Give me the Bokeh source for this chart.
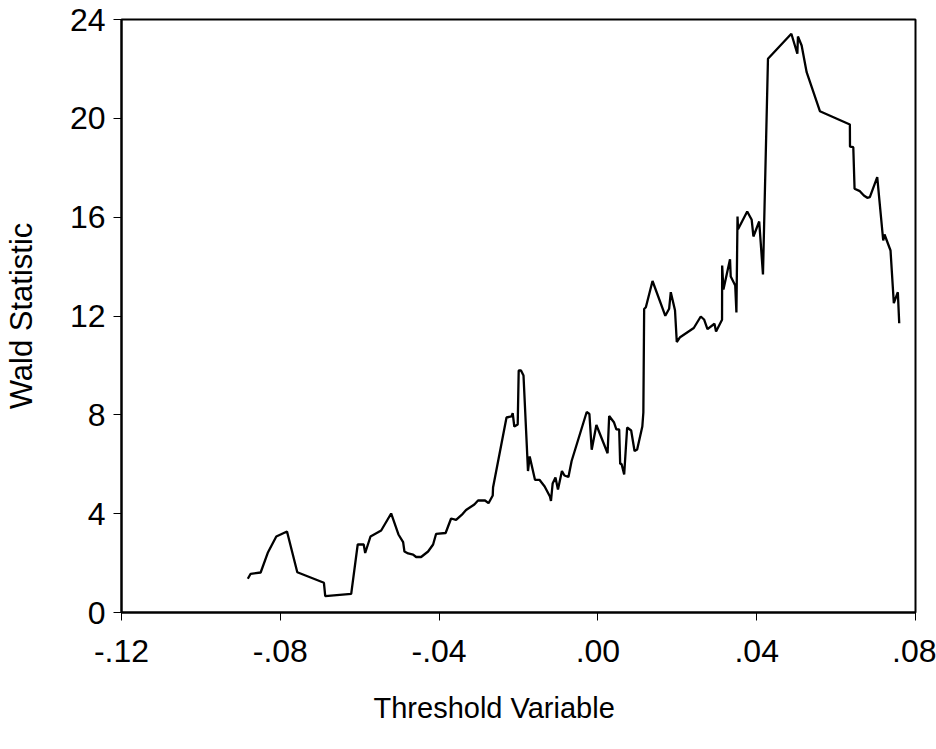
from bokeh.plotting import figure
from bokeh.models import FixedTicker, Title
from bokeh.embed import file_html
from bokeh.resources import INLINE

thresholds = [
    -0.08818, -0.08747, -0.08495, -0.08309, -0.08101, -0.07831, -0.07572, -0.06901, -0.06868, -0.06214,
    -0.06050, -0.05899, -0.05862, -0.05728, -0.05459, -0.05208, -0.05024, -0.04906, -0.04873, -0.04780,
    -0.04654, -0.04579, -0.04453, -0.04277, -0.04151, -0.04075, -0.03836, -0.03698, -0.03572, -0.03404,
    -0.03321, -0.03112, -0.03019, -0.02843, -0.02755, -0.02649, -0.02641, -0.02302, -0.02176, -0.02146,
    -0.02106, -0.02020, -0.01995, -0.01937, -0.01874, -0.01761, -0.01718, -0.01585, -0.01472, -0.01341,
    -0.01208, -0.01182, -0.01140, -0.01069, -0.01006, -0.00906, -0.00843, -0.00742, -0.00662, -0.00282,
    -0.00214, -0.00156, -0.00038, 0.00244, 0.00284, 0.00403, 0.00465, 0.00536, 0.00561, 0.00596,
    0.00662, 0.00737, 0.00838, 0.00923, 0.00989, 0.01119, 0.01145, 0.01165, 0.01208, 0.01376,
    0.01698, 0.01794, 0.01836, 0.01942, 0.01987, 0.02070, 0.02415, 0.02591, 0.02674, 0.02760,
    0.02936, 0.02976, 0.03127, 0.03130, 0.03162, 0.03328, 0.03346, 0.03459, 0.03489, 0.03517,
    0.03530, 0.03761, 0.03874, 0.03917, 0.04063, 0.04158, 0.04284, 0.04873, 0.05024, 0.05039,
    0.05132, 0.05258, 0.05592, 0.06347, 0.06350, 0.06433, 0.06465, 0.06599, 0.06699, 0.06785,
    0.06850, 0.07036, 0.07187, 0.07220, 0.07371, 0.07454, 0.07555, 0.07590,
]
wald = [
    1.364, 1.566, 1.619, 2.440, 3.076, 3.278, 1.631, 1.202, 0.660, 0.757,
    2.752, 2.752, 2.408, 3.076, 3.319, 4.007, 3.157, 2.845, 2.469, 2.388,
    2.347, 2.246, 2.246, 2.469, 2.752, 3.185, 3.218, 3.804, 3.752, 3.995,
    4.148, 4.371, 4.533, 4.533, 4.424, 4.735, 5.059, 7.892, 7.933, 8.066,
    7.528, 7.609, 9.794, 9.794, 9.592, 5.727, 6.314, 5.371, 5.371, 5.100,
    4.695, 4.513, 5.221, 5.464, 4.978, 5.727, 5.545, 5.484, 6.132, 8.115,
    8.034, 6.585, 7.589, 6.447, 7.953, 7.702, 7.415, 7.407, 6.018, 6.010,
    5.585, 7.488, 7.366, 6.536, 6.597, 7.528, 8.095, 12.284, 12.356, 13.417,
    12.008, 12.292, 12.964, 12.235, 10.948, 11.142, 11.515, 11.980, 11.859, 11.466,
    11.685, 11.373, 11.846, 14.044, 13.073, 14.295, 13.599, 13.235, 12.142, 16.027,
    15.513, 16.230, 15.894, 15.218, 15.825, 13.680, 22.410, 23.422, 22.613, 23.312,
    22.948, 21.868, 20.289, 19.751, 18.860, 18.832, 17.148, 17.052, 16.877, 16.784,
    16.809, 17.618, 15.056, 15.299, 14.651, 12.518, 12.964, 11.709,
]

x_ticks = [-0.12, -0.08, -0.04, 0.0, 0.04, 0.08]
x_tick_labels = ["-.12", "-.08", "-.04", ".00", ".04", ".08"]
y_ticks = [0, 4, 8, 12, 16, 20, 24]

FONT = "Liberation Sans"

p = figure(
    width=936, height=749,
    x_range=(-0.12, 0.08), y_range=(0, 24),
    output_backend="svg", toolbar_location=None,
    min_border_left=120, min_border_right=21, min_border_top=19, min_border_bottom=137,
)
p.background_fill_color = "white"
p.border_fill_color = "white"
p.outline_line_color = "black"
p.outline_line_width = 2
p.xgrid.visible = False
p.ygrid.visible = False

p.line(thresholds, wald, line_color="black", line_width=2.3)

for ax in (p.xaxis[0], p.yaxis[0]):
    ax.axis_line_color = "black"
    ax.axis_line_width = 2
    ax.major_tick_line_color = "black"
    ax.major_tick_line_width = 1
    ax.major_tick_out = 8
    ax.major_tick_in = 0
    ax.minor_tick_line_color = None
    ax.major_label_text_font = FONT
    ax.major_label_text_font_size = "32px"
    ax.major_label_text_color = "black"

p.xaxis.ticker = FixedTicker(ticks=x_ticks)
p.xaxis.major_label_overrides = dict(zip(x_ticks, x_tick_labels))
p.xaxis.major_label_standoff = 19
p.yaxis.ticker = FixedTicker(ticks=y_ticks)
p.yaxis.major_label_standoff = 8

p.yaxis.axis_label = "Wald Statistic"
p.yaxis.axis_label_text_font = FONT
p.yaxis.axis_label_text_font_size = "31px"
p.yaxis.axis_label_text_font_style = "normal"
p.yaxis.axis_label_text_color = "black"
p.yaxis.axis_label_standoff = 28

p.add_layout(Title(text="Threshold Variable", text_font=FONT, text_font_size="29px",
                   text_font_style="normal", text_color="black",
                   align="left", offset=252, standoff=50), "below")

open("out.html", "w").write(file_html(p, INLINE))
